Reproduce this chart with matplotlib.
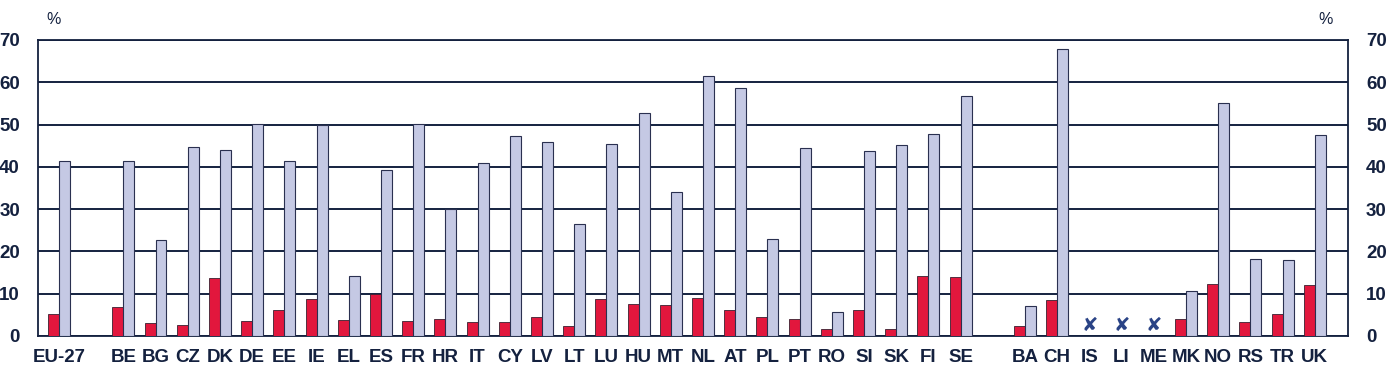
import numpy as np
import matplotlib
matplotlib.use("Agg")
import matplotlib.pyplot as plt

categories = ['EU-27', '', 'BE', 'BG', 'CZ', 'DK', 'DE', 'EE', 'IE', 'EL', 'ES', 'FR',
              'HR', 'IT', 'CY', 'LV', 'LT', 'LU', 'HU', 'MT', 'NL', 'AT', 'PL', 'PT',
              'RO', 'SI', 'SK', 'FI', 'SE', '', 'BA', 'CH', 'IS', 'LI', 'ME', 'MK',
              'NO', 'RS', 'TR', 'UK']
red_values = [5.2, None, 6.9, 3.0, 2.6, 13.6, 3.5, 6.1, 8.7, 3.8, 10.0, 3.5,
              4.0, 3.2, 3.2, 4.4, 2.4, 8.7, 7.6, 7.3, 9.1, 6.2, 4.4, 4.0,
              1.7, 6.1, 1.6, 14.3, 14.0, None, 2.3, 8.5, None, None, None, 4.0,
              12.2, 3.2, 5.2, 12.1]
blue_values = [41.5, None, 41.5, 22.7, 44.7, 43.9, 50.2, 41.3, 50.0, 14.1, 39.3, 50.1,
               30.0, 40.8, 47.4, 45.8, 26.5, 45.3, 52.7, 34.0, 61.6, 58.6, 22.9, 44.5,
               5.6, 43.7, 45.1, 47.7, 56.7, None, 7.0, 67.8, None, None, None, 10.6,
               55.1, 18.3, 17.9, 47.5]
not_available = ['IS', 'LI', 'ME']
yticks = [0, 10, 20, 30, 40, 50, 60, 70]

navy = '#14213F'
red = '#E2173D'
lav = '#C5C9E4'

fig = plt.figure(figsize=(13.86, 3.69), dpi=100)
ax = fig.add_axes([38/1386, 1-336/369, (1348-38)/1386, (336-40)/369])

x = np.arange(len(categories))
w = 0.34
rv = np.array([np.nan if v is None else v for v in red_values])
bv = np.array([np.nan if v is None else v for v in blue_values])
ax.bar(x - w/2, rv, width=w, color=red, edgecolor='#3a2030', linewidth=0.6, zorder=3)
ax.bar(x + w/2, bv, width=w, color=lav, edgecolor='#2a3050', linewidth=0.8, zorder=3)

for i, c in enumerate(categories):
    if c in not_available:
        ax.text(i, 2.5, '\u2718', ha='center', va='center', fontsize=14,
                color='#2A4386', family=['DejaVu Sans'], zorder=4)

ax.set_xlim(-0.65, 40.03)
ax.set_ylim(0, 70)
ax.set_yticks(yticks)
ax.yaxis.grid(True, color=navy, linewidth=1.4, zorder=1)
ax.set_axisbelow(True)
for s in ax.spines.values():
    s.set_color(navy)
    s.set_linewidth(1.3)

tick_pos = [i for i, c in enumerate(categories) if c]
ax.set_xticks(tick_pos)
ax.set_xticklabels([categories[i] for i in tick_pos],
                   family=['Liberation Sans Narrow', 'Liberation Sans', 'DejaVu Sans'],
                   fontsize=13.5, fontweight='bold', color=navy)
ax.tick_params(axis='x', length=0, pad=9)
ax.tick_params(axis='y', length=0, pad=13, labelright=True, labelsize=13.5, labelcolor=navy)
for lab in ax.get_yticklabels():
    lab.set_fontweight('bold')
    lab.set_family(['Liberation Sans', 'DejaVu Sans'])

fig.text(54/1386, 1-19/369, '%', ha='center', va='center', fontsize=11.5, color=navy,
         family=['Liberation Sans', 'DejaVu Sans'])
fig.text(1326/1386, 1-19/369, '%', ha='center', va='center', fontsize=11.5, color=navy,
         family=['Liberation Sans', 'DejaVu Sans'])

fig.savefig('out.png', dpi=100)
